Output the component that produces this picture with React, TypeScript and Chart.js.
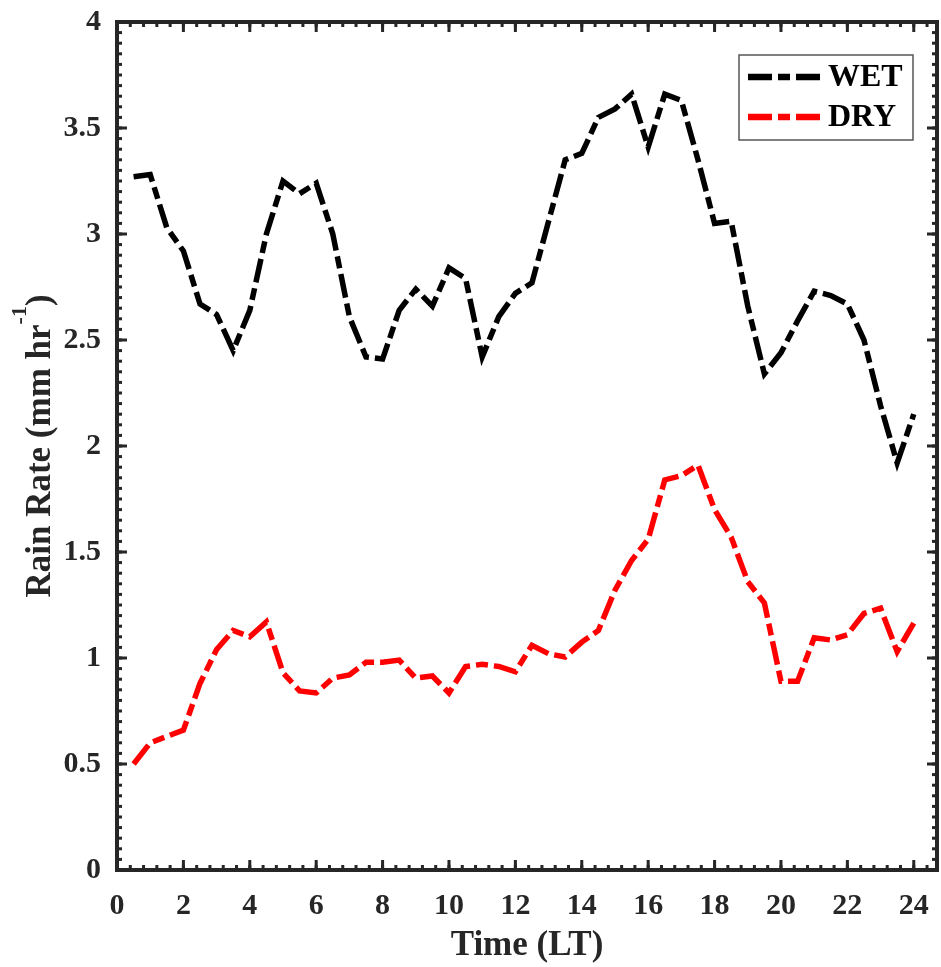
import { useEffect, useRef } from "react";
import { Chart, registerables } from "chart.js";

Chart.register(...registerables);

// ---- data ----
const hours = [
  0.5, 1, 1.5, 2, 2.5, 3, 3.5, 4, 4.5, 5, 5.5, 6, 6.5, 7, 7.5, 8,
  8.5, 9, 9.5, 10, 10.5, 11, 11.5, 12, 12.5, 13, 13.5, 14, 14.5, 15, 15.5, 16,
  16.5, 17, 17.5, 18, 18.5, 19, 19.5, 20, 20.5, 21, 21.5, 22, 22.5, 23, 23.5, 24,
];

const wetRate = [
  3.27, 3.28, 3.03, 2.92, 2.67, 2.62, 2.45, 2.64, 3.0, 3.25, 3.19, 3.24, 3.0, 2.61, 2.42, 2.41,
  2.64, 2.74, 2.66, 2.84, 2.79, 2.42, 2.61, 2.72, 2.77, 3.06, 3.35, 3.38, 3.55, 3.59, 3.66, 3.41,
  3.66, 3.63, 3.35, 3.05, 3.06, 2.66, 2.34, 2.44, 2.59, 2.73, 2.71, 2.67, 2.5, 2.19, 1.92, 2.15,
];

const dryRate = [
  0.5, 0.6, 0.63, 0.66, 0.88, 1.04, 1.13, 1.1, 1.17, 0.93, 0.845, 0.835, 0.905, 0.92, 0.98, 0.98,
  0.99, 0.905, 0.915, 0.835, 0.96, 0.97, 0.96, 0.935, 1.06, 1.02, 1.005, 1.075, 1.13, 1.32, 1.46, 1.56,
  1.84, 1.86, 1.91, 1.7, 1.57, 1.36, 1.26, 0.89, 0.89, 1.095, 1.085, 1.11, 1.21, 1.235, 1.03, 1.165,
];

const seriesLabels = ["WET", "DRY"];
const seriesColors = ["#000000", "#ff0000"];
const xTickValues = [0, 2, 4, 6, 8, 10, 12, 14, 16, 18, 20, 22, 24];
const yTickValues = [0, 0.5, 1, 1.5, 2, 2.5, 3, 3.5, 4];
const xMinorStep = 0.4;
const yMinorStep = 0.05;

// ---- styles ----
const AXIS_COLOR = "#262626";
const FONT_FAMILY = "'Liberation Serif', 'Times New Roman', serif";
const DASH = [24, 6, 12, 6];
const LINE_WIDTH = 5.5;

const framePlugin = {
  id: "frame",
  afterDatasetsDraw(chart: any) {
    const { ctx, chartArea, scales } = chart;
    const { left, right, top, bottom } = chartArea;
    const x = scales.x;
    const y = scales.y;
    ctx.save();
    ctx.fillStyle = AXIS_COLOR;
    const tw = 3;
    const majorLen = 10;
    const minorLen = 5;
    const nx = Math.floor(x.max / xMinorStep + 1e-6);
    for (let i = 0; i <= nx; i++) {
      const px = x.getPixelForValue(i * xMinorStep);
      ctx.fillRect(px - tw / 2, bottom - minorLen, tw, minorLen);
      ctx.fillRect(px - tw / 2, top, tw, minorLen);
    }
    for (const v of xTickValues) {
      const px = x.getPixelForValue(v);
      ctx.fillRect(px - tw / 2, bottom - majorLen, tw, majorLen);
      ctx.fillRect(px - tw / 2, top, tw, majorLen);
    }
    const ny = Math.floor(y.max / yMinorStep + 1e-6);
    for (let i = 0; i <= ny; i++) {
      const py = y.getPixelForValue(i * yMinorStep);
      ctx.fillRect(left, py - tw / 2, minorLen, tw);
      ctx.fillRect(right - minorLen, py - tw / 2, minorLen, tw);
    }
    for (const v of yTickValues) {
      const py = y.getPixelForValue(v);
      ctx.fillRect(left, py - tw / 2, majorLen, tw);
      ctx.fillRect(right - majorLen, py - tw / 2, majorLen, tw);
    }
    ctx.strokeStyle = AXIS_COLOR;
    ctx.lineWidth = 4;
    ctx.strokeRect(left, top, right - left, bottom - top);
    ctx.restore();
  },
};

const legendPlugin = {
  id: "boxLegend",
  afterDraw(chart: any) {
    const { ctx, chartArea } = chart;
    const bx = chartArea.right - 198;
    const by = chartArea.top + 33;
    const bw = 174;
    const bh = 85;
    ctx.save();
    ctx.fillStyle = "#ffffff";
    ctx.fillRect(bx, by, bw, bh);
    ctx.strokeStyle = "#555555";
    ctx.lineWidth = 1.5;
    ctx.strokeRect(bx, by, bw, bh);
    chart.data.datasets.forEach((ds: any, i: number) => {
      const ly = by + 22 + i * 40;
      ctx.strokeStyle = ds.borderColor;
      ctx.lineWidth = LINE_WIDTH + 1;
      ctx.setLineDash(DASH);
      ctx.lineCap = "butt";
      ctx.beginPath();
      ctx.moveTo(bx + 9, ly);
      ctx.lineTo(bx + 81, ly);
      ctx.stroke();
      ctx.setLineDash([]);
      ctx.fillStyle = "#000000";
      ctx.font = `bold 32px ${FONT_FAMILY}`;
      ctx.textBaseline = "middle";
      ctx.textAlign = "left";
      ctx.fillText(ds.label, bx + 89, ly + 1);
    });
    ctx.restore();
  },
};

const yTitlePlugin = {
  id: "yTitle",
  afterDraw(chart: any) {
    const { ctx, chartArea } = chart;
    const cy = (chartArea.top + chartArea.bottom) / 2;
    const mainFont = `bold 35px ${FONT_FAMILY}`;
    const supFont = `bold 22px ${FONT_FAMILY}`;
    const part1 = "Rain Rate (mm hr";
    const sup = "-1";
    const part2 = ")";
    ctx.save();
    ctx.font = mainFont;
    const w1 = ctx.measureText(part1).width;
    const w3 = ctx.measureText(part2).width;
    ctx.font = supFont;
    const w2 = ctx.measureText(sup).width;
    const total = w1 + w2 + w3;
    ctx.translate(50, cy);
    ctx.rotate(-Math.PI / 2);
    ctx.fillStyle = AXIS_COLOR;
    ctx.textBaseline = "alphabetic";
    ctx.textAlign = "left";
    let sx = -total / 2;
    ctx.font = mainFont;
    ctx.fillText(part1, sx, 0);
    sx += w1;
    ctx.font = supFont;
    ctx.fillText(sup, sx, -24);
    sx += w2;
    ctx.font = mainFont;
    ctx.fillText(part2, sx, 0);
    ctx.restore();
  },
};

export default function App() {
  const ref = useRef<HTMLCanvasElement>(null);

  useEffect(() => {
    document.body.style.margin = "0";
    const canvas = ref.current;
    if (!canvas) return;
    const seriesValues = [wetRate, dryRate];
    const tickFont = { family: FONT_FAMILY, size: 30, weight: "bold" as const };
    const chart = new Chart(canvas, {
      type: "line",
      data: {
        datasets: seriesLabels.map((label, i) => ({
          label,
          data: hours.map((h, j) => ({ x: h, y: seriesValues[i][j] })),
          borderColor: seriesColors[i],
          backgroundColor: seriesColors[i],
          borderWidth: LINE_WIDTH,
          borderDash: DASH,
          borderCapStyle: "butt" as const,
          borderJoinStyle: "miter" as const,
          pointRadius: 0,
          pointHoverRadius: 0,
          tension: 0,
          fill: false,
        })),
      },
      options: {
        responsive: false,
        animation: false,
        devicePixelRatio: 1,
        events: [],
        layout: { padding: { top: 22, right: 4, left: 0, bottom: 0 } },
        plugins: {
          legend: { display: false },
          tooltip: { enabled: false },
        },
        scales: {
          x: {
            type: "linear",
            min: 0,
            max: 24.7,
            afterBuildTicks: (s: any) => {
              s.ticks = xTickValues.map((v) => ({ value: v }));
            },
            afterFit: (s: any) => {
              s.height = 97;
              s.paddingLeft = 0;
              s.paddingRight = 0;
            },
            grid: { display: false, drawTicks: false },
            border: { display: false },
            ticks: {
              font: tickFont,
              color: AXIS_COLOR,
              padding: 18,
              maxRotation: 0,
              autoSkip: false,
              callback: (v: any) => String(v),
            },
            title: {
              display: true,
              text: "Time (LT)",
              color: AXIS_COLOR,
              font: { family: FONT_FAMILY, size: 35, weight: "bold" },
              padding: { top: 0, bottom: 0 },
            },
          },
          y: {
            type: "linear",
            min: 0,
            max: 4,
            afterBuildTicks: (s: any) => {
              s.ticks = yTickValues.map((v) => ({ value: v }));
            },
            afterFit: (s: any) => {
              s.width = 117;
              s.paddingTop = 0;
              s.paddingBottom = 0;
            },
            grid: { display: false, drawTicks: false },
            border: { display: false },
            ticks: {
              font: tickFont,
              color: AXIS_COLOR,
              padding: 16,
              autoSkip: false,
              callback: (v: any) => String(v),
            },
          },
        },
      },
      plugins: [framePlugin, legendPlugin, yTitlePlugin],
    });
    return () => chart.destroy();
  }, []);

  return (
    <div style={{ width: 941, height: 967 }}>
      <canvas ref={ref} width={941} height={967} style={{ display: "block" }} />
    </div>
  );
}
